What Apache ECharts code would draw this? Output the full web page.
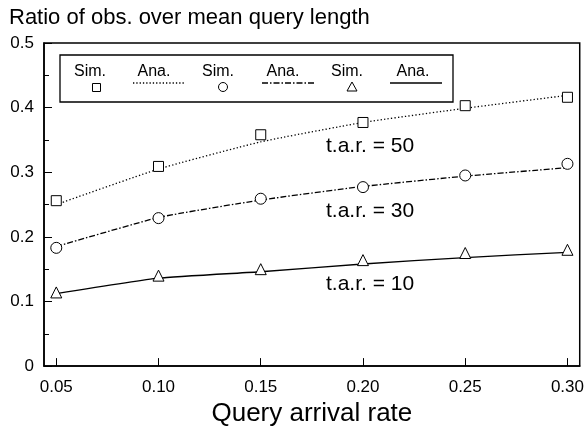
<!DOCTYPE html>
<html><head><meta charset="utf-8">
<script src="https://cdn.jsdelivr.net/npm/echarts@6/dist/echarts.min.js"></script>
<style>html,body{margin:0;padding:0;background:#fff}#c{width:587px;height:432px}</style>
</head><body><div id="c"></div>
<script>
const xValues = [0.05, 0.10, 0.15, 0.20, 0.25, 0.30];
const xTickLabels = [0.05, 0.10, 0.15, 0.20, 0.25, 0.30];
const sim50 = [0.256, 0.309, 0.358, 0.377, 0.403, 0.416];
const ana50 = [0.250, 0.305, 0.347, 0.377, 0.399, 0.419];
const sim30 = [0.183, 0.229, 0.259, 0.277, 0.295, 0.313];
const ana30 = [0.185, 0.230, 0.257, 0.278, 0.294, 0.307];
const sim10 = [0.114, 0.140, 0.150, 0.164, 0.175, 0.180];
const ana10 = [0.112, 0.136, 0.146, 0.158, 0.168, 0.176];
const annotations = ['t.a.r. = 50', 't.a.r. = 30', 't.a.r. = 10'];

const FONT = 'Liberation Sans, Arial, sans-serif';
const pair = a => xValues.map((x, i) => [x, a[i]]);
const chart = echarts.init(document.getElementById('c'), null, {renderer: 'canvas'});

function simSeries(name, data, symbol, size) {
  return {name, type: 'line', data: pair(data), symbol, symbolSize: size,
    lineStyle: {width: 0, opacity: 0}, itemStyle: {color: '#fff', borderColor: '#000', borderWidth: 1},
    z: 5, animation: false};
}
function anaSeries(name, data, type) {
  return {name, type: 'line', data: pair(data), showSymbol: false, smooth: 0.15,
    lineStyle: {color: '#000', width: 1.3, type}, animation: false};
}

const legendTexts = [
  {t: 'Sim.', x: 90}, {t: 'Ana.', x: 154}, {t: 'Sim.', x: 218},
  {t: 'Ana.', x: 283}, {t: 'Sim.', x: 347}, {t: 'Ana.', x: 413}
];
const legendItems = legendTexts.map(o => ({type: 'text', x: o.x, y: 72, z: 11,
  style: {text: o.t, font: '16px ' + FONT, fill: '#000', align: 'center', verticalAlign: 'middle'}}));
const annY = [146, 211, 284];
const annItems = annotations.map((t, i) => ({type: 'text', x: 326, y: annY[i], z: 11,
  style: {text: t, font: '21px ' + FONT, fill: '#000', align: 'left', verticalAlign: 'middle'}}));

chart.setOption({
  backgroundColor: '#fff',
  animation: false,
  title: {text: 'Ratio of obs. over mean query length', left: 9, top: 7, padding: 0,
    textStyle: {fontFamily: FONT, fontSize: 22, fontWeight: 'normal', color: '#000'}},
  grid: {left: 44, right: 4, top: 43, bottom: 65, show: true, borderColor: '#000', borderWidth: 1.5, containLabel: false},
  xAxis: {type: 'value', min: 0.044, max: 0.306,
    name: 'Query arrival rate', nameLocation: 'middle', nameGap: 34,
    nameTextStyle: {fontFamily: FONT, fontSize: 26, color: '#000'},
    axisLine: {lineStyle: {color: '#000', width: 1.5}},
    axisTick: {inside: true, length: 8, lineStyle: {color: '#000'}, customValues: xTickLabels},
    axisLabel: {customValues: xTickLabels, formatter: v => v.toFixed(2), fontFamily: FONT, fontSize: 17, color: '#000', margin: 13},
    splitLine: {show: false}},
  yAxis: {type: 'value', min: 0, max: 0.5, interval: 0.1,
    axisLine: {show: true, lineStyle: {color: '#000', width: 1.5}},
    axisTick: {show: true, inside: true, length: 8, lineStyle: {color: '#000'}},
    minorTick: {show: true, splitNumber: 2, length: 5, lineStyle: {color: '#000'}},
    axisLabel: {formatter: v => v === 0 ? '0' : v.toFixed(1), fontFamily: FONT, fontSize: 17, color: '#000', margin: 10},
    splitLine: {show: false}},
  graphic: [
    {type: 'rect', shape: {x: 60, y: 55, width: 393, height: 47}, style: {fill: 'none', stroke: '#000', lineWidth: 1.3}, z: 10},
    ...legendItems,
    {type: 'rect', shape: {x: 92.5, y: 83.5, width: 8, height: 8}, style: {fill: '#fff', stroke: '#000', lineWidth: 1}, z: 11},
    {type: 'line', shape: {x1: 133, y1: 83, x2: 185, y2: 83}, style: {stroke: '#000', lineWidth: 1.3, lineDash: [1.3, 2]}, z: 11},
    {type: 'circle', shape: {cx: 223, cy: 87, r: 4.5}, style: {fill: '#fff', stroke: '#000', lineWidth: 1}, z: 11},
    {type: 'line', shape: {x1: 262, y1: 83, x2: 315, y2: 83}, style: {stroke: '#000', lineWidth: 1.3, lineDash: [6, 2, 1.5, 2]}, z: 11},
    {type: 'polygon', shape: {points: [[352, 82], [347, 91], [357, 91]]}, style: {fill: '#fff', stroke: '#000', lineWidth: 1}, z: 11},
    {type: 'line', shape: {x1: 390, y1: 83, x2: 442, y2: 83}, style: {stroke: '#000', lineWidth: 1.5}, z: 11},
    ...annItems
  ],
  series: [
    anaSeries('Ana. 50', ana50, [1.3, 2.2]),
    anaSeries('Ana. 30', ana30, [6, 2, 1.5, 2]),
    anaSeries('Ana. 10', ana10, 'solid'),
    simSeries('Sim. 50', sim50, 'rect', 10),
    simSeries('Sim. 30', sim30, 'circle', 11),
    simSeries('Sim. 10', sim10, 'triangle', 11)
  ]
});
</script></body></html>
